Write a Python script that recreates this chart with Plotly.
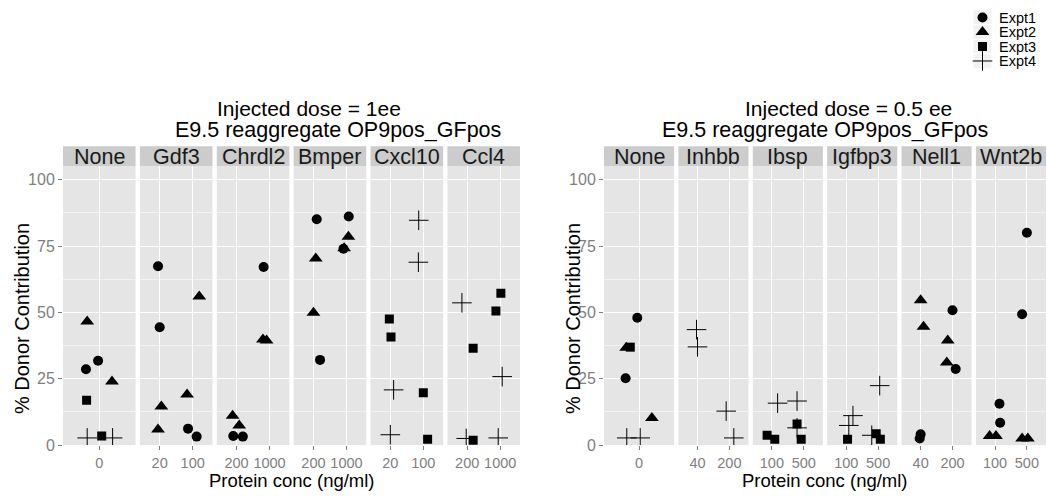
import plotly.graph_objects as go

W, H = 1047, 497
FONT = "Liberation Sans, Arial, sans-serif"

# ---------------- data ----------------
expt_names = ["Expt1", "Expt2", "Expt3", "Expt4"]
y_label = "% Donor Contribution"
x_label = "Protein conc (ng/ml)"
y_ticks = [0, 25, 50, 75, 100]

left_title = ["Injected dose = 1ee", "E9.5 reaggregate OP9pos_GFpos"]
left_facets = ["None", "Gdf3", "Chrdl2", "Bmper", "Cxcl10", "Ccl4"]
left_levels = [["0"], ["20", "100"], ["200", "1000"], ["200", "1000"], ["20", "100"], ["200", "1000"]]
left_facet = (["None"] * 8 + ["Gdf3"] * 8 + ["Chrdl2"] * 7 + ["Bmper"] * 8
              + ["Cxcl10"] * 8 + ["Ccl4"] * 8)
left_conc = ["0", "0", "0", "0", "0", "0", "0", "0",
             "20", "20", "100", "20", "20", "100", "100", "100",
             "200", "200", "200", "200", "1000", "1000", "1000",
             "200", "1000", "1000", "1000", "1000", "200", "200", "200",
             "100", "100", "20", "20", "20", "100", "20", "100",
             "1000", "200", "1000", "200", "1000", "200", "200", "1000"]
left_expt = ["Expt2", "Expt1", "Expt1", "Expt2", "Expt3", "Expt3", "Expt4", "Expt4",
             "Expt1", "Expt1", "Expt2", "Expt2", "Expt2", "Expt2", "Expt1", "Expt1",
             "Expt2", "Expt2", "Expt1", "Expt1", "Expt1", "Expt2", "Expt2",
             "Expt1", "Expt1", "Expt2", "Expt1", "Expt2", "Expt2", "Expt2", "Expt1",
             "Expt4", "Expt4", "Expt3", "Expt3", "Expt4", "Expt3", "Expt4", "Expt3",
             "Expt3", "Expt4", "Expt3", "Expt3", "Expt4", "Expt4", "Expt3", "Expt4"]
left_value = [46.6, 28.6, 31.8, 24.0, 16.9, 3.4, 2.7, 2.7,
              67.4, 44.4, 56.0, 14.5, 5.9, 19.1, 6.2, 3.2,
              11.1, 7.4, 3.4, 3.2, 67.1, 39.8, 39.4,
              85.1, 86.1, 78.5, 74.0, 74.2, 70.3, 49.9, 32.1,
              84.7, 68.9, 47.5, 40.7, 20.8, 19.7, 3.9, 2.2,
              57.2, 53.6, 50.5, 36.5, 25.8, 2.5, 1.8, 2.7]
left_jitter = [-0.20, -0.22, -0.02, 0.21, -0.21, 0.04, -0.20, 0.22,
               -0.05, 0.00, 0.20, 0.05, -0.05, -0.17, -0.14, 0.12,
               -0.12, 0.08, -0.10, 0.19, -0.18, -0.20, -0.09,
               0.10, 0.07, 0.06, -0.09, -0.07, 0.07, 0.00, 0.20,
               -0.14, -0.15, -0.03, 0.02, 0.10, 0.00, 0.00, 0.13,
               0.02, -0.16, -0.13, 0.18, 0.06, -0.03, 0.18, -0.06]

right_title = ["Injected dose = 0.5 ee", "E9.5 reaggregate OP9pos_GFpos"]
right_facets = ["None", "Inhbb", "Ibsp", "Igfbp3", "Nell1", "Wnt2b"]
right_levels = [["0"], ["40", "200"], ["100", "500"], ["100", "500"], ["40", "200"], ["100", "500"]]
right_facet = (["None"] * 7 + ["Inhbb"] * 4 + ["Ibsp"] * 7 + ["Igfbp3"] * 7
               + ["Nell1"] * 8 + ["Wnt2b"] * 8)
right_conc = ["0", "0", "0", "0", "0", "0", "0",
              "40", "40", "200", "200",
              "100", "100", "100", "500", "500", "500", "500",
              "500", "100", "100", "100", "500", "500", "500",
              "40", "200", "40", "200", "200", "200", "40", "40",
              "500", "500", "100", "100", "100", "100", "500", "500"]
right_expt = ["Expt1", "Expt2", "Expt3", "Expt1", "Expt2", "Expt4", "Expt4",
              "Expt4", "Expt4", "Expt4", "Expt4",
              "Expt3", "Expt3", "Expt4", "Expt4", "Expt4", "Expt3", "Expt3",
              "Expt4", "Expt4", "Expt4", "Expt3", "Expt3", "Expt4", "Expt3",
              "Expt2", "Expt1", "Expt2", "Expt2", "Expt2", "Expt1", "Expt1", "Expt1",
              "Expt1", "Expt1", "Expt1", "Expt1", "Expt2", "Expt2", "Expt2", "Expt2"]
right_value = [48.0, 36.7, 36.9, 25.2, 10.2, 2.7, 2.7,
               43.5, 37.0, 12.8, 2.7,
               3.7, 2.2, 15.8, 16.6, 6.5, 7.9, 2.2,
               22.4, 11.1, 7.4, 2.2, 4.3, 3.7, 2.2,
               54.6, 50.8, 44.6, 39.4, 31.1, 28.7, 4.1, 2.5,
               80.0, 49.3, 15.6, 8.4, 3.4, 3.4, 2.5, 2.5]
right_jitter = [-0.03, -0.22, -0.15, -0.23, 0.22, -0.21, 0.02,
                -0.03, 0.00, -0.10, 0.14,
                -0.15, 0.09, 0.18, -0.21, -0.21, -0.21, -0.08,
                0.05, 0.21, 0.08, 0.04, -0.06, -0.20, 0.07,
                0.00, 0.00, 0.09, -0.15, -0.18, 0.10, 0.00, -0.03,
                0.00, -0.15, 0.14, 0.16, -0.17, 0.03, -0.15, 0.03]

# ---------------- styling / layout ----------------
symbols = {"Expt1": ("circle", 10), "Expt2": ("triangle-up", 12),
           "Expt3": ("square", 9), "Expt4": ("cross-thin", 14)}

panels = [
    dict(title=left_title, facets=left_facets, levels=left_levels, facet=left_facet,
         conc=left_conc, expt=left_expt, value=left_value, jitter=left_jitter,
         x0=63, x1=520, t1x=309, t2x=338, ytitle_x=22),
    dict(title=right_title, facets=right_facets, levels=right_levels, facet=right_facet,
         conc=right_conc, expt=right_expt, value=right_value, jitter=right_jitter,
         x0=604, x1=1046, t1x=848, t2x=825, ytitle_x=573),
]

GAP = 4.3
PTOP, PBOT = 169, 453.3
STRIP_TOP = 149
YRANGE = [0, (PBOT - PTOP) / ((PBOT - 183.0) / 100.0)]


def fx(p):
    return p / W


def fy(p):
    return 1 - p / H


def marker_for(e):
    sym, size = symbols[e]
    return dict(symbol=sym, size=size, color="black",
                line=dict(width=1 if sym == "cross-thin" else 0, color="black"))


fig = go.Figure()
layout = dict(shapes=[], annotations=[])
n = 0
for P in panels:
    nf = len(P["facets"])
    fw = (P["x1"] - P["x0"] - GAP * (nf - 1)) / nf
    for k, fname in enumerate(P["facets"]):
        n += 1
        a0 = P["x0"] + k * (fw + GAP)
        a1 = a0 + fw
        levels = P["levels"][k]
        nl = len(levels)
        xs = "" if n == 1 else str(n)
        layout["xaxis" + xs] = dict(
            domain=[fx(a0), fx(a1)], anchor="y" + xs, range=[0.4, nl + 0.6],
            tickmode="array", tickvals=list(range(1, nl + 1)), ticktext=levels,
            tickangle=0, ticklabelstandoff=1,
            showgrid=True, gridcolor="white", gridwidth=1.3, zeroline=False,
            showline=False, ticks="outside", ticklen=4, tickcolor="#7F7F7F",
            tickfont=dict(size=14.5, color="#7F7F7F", family=FONT), fixedrange=True)
        layout["yaxis" + xs] = dict(
            domain=[fy(PBOT), fy(PTOP)], anchor="x" + xs, range=YRANGE,
            tickmode="array", tickvals=y_ticks, showgrid=True, gridcolor="white",
            gridwidth=1.3, zeroline=False, showline=False,
            minor=dict(tickmode="array", tickvals=[12.5, 37.5, 62.5, 87.5],
                       showgrid=True, gridcolor="#F2F2F2", gridwidth=0.8),
            ticks="outside" if k == 0 else "", ticklen=4, tickcolor="#7F7F7F",
            showticklabels=(k == 0),
            tickfont=dict(size=16, color="#7F7F7F", family=FONT), fixedrange=True)
        # strip
        layout["shapes"].append(dict(type="rect", xref="paper", yref="paper",
                                     x0=fx(a0), x1=fx(a1), y0=fy(PTOP), y1=fy(STRIP_TOP),
                                     fillcolor="#CCCCCC", line=dict(width=0), layer="below"))
        layout["annotations"].append(dict(text=fname, xref="paper", yref="paper",
                                          x=fx((a0 + a1) / 2), y=fy((PTOP + STRIP_TOP) / 2 + 0.5),
                                          xanchor="center", yanchor="middle", showarrow=False,
                                          font=dict(size=21.5, color="#1A1A1A", family=FONT)))
        # points
        for e in expt_names:
            idx = [i for i in range(len(P["value"]))
                   if P["facet"][i] == fname and P["expt"][i] == e]
            if not idx:
                continue
            xv = [levels.index(P["conc"][i]) + 1 + P["jitter"][i] for i in idx]
            yv = [P["value"][i] for i in idx]
            fig.add_trace(go.Scatter(
                x=xv, y=yv, mode="markers", marker=marker_for(e), name=e,
                showlegend=False, xaxis="x" + xs, yaxis="y" + xs, hoverinfo="skip"))
    # titles
    layout["annotations"].append(dict(text=P["title"][0], xref="paper", yref="paper",
                                      x=fx(P["t1x"]), y=fy(110), xanchor="center",
                                      yanchor="middle", showarrow=False,
                                      font=dict(size=21, color="black", family=FONT)))
    layout["annotations"].append(dict(text=P["title"][1], xref="paper", yref="paper",
                                      x=fx(P["t2x"]), y=fy(132), xanchor="center",
                                      yanchor="middle", showarrow=False,
                                      font=dict(size=21.5, color="black", family=FONT)))
    layout["annotations"].append(dict(text=y_label, xref="paper", yref="paper",
                                      x=fx(P["ytitle_x"]), y=fy(325), xanchor="center",
                                      yanchor="middle", textangle=-90, showarrow=False,
                                      font=dict(size=20, color="black", family=FONT)))
    layout["annotations"].append(dict(text=x_label, xref="paper", yref="paper",
                                      x=fx((P["x0"] + P["x1"]) / 2), y=fy(489),
                                      xanchor="center", yanchor="middle", showarrow=False,
                                      font=dict(size=18.5, color="black", family=FONT)))

# ---------------- legend (drawn on its own small categorical axis) ----------------
LX0, LX1, LY0, LY1 = 973, 992, 10.5, 69.5
layout["xaxis13"] = dict(domain=[fx(LX0), fx(LX1)], anchor="y13", range=[-1, 1],
                         visible=False, fixedrange=True)
layout["yaxis13"] = dict(domain=[fy(LY1), fy(LY0)], anchor="x13", type="category",
                         categoryorder="array", categoryarray=expt_names,
                         range=[len(expt_names) - 0.5, -0.5], visible=False, fixedrange=True)
for j, e in enumerate(expt_names):
    layout["shapes"].append(dict(type="rect", xref="x13", yref="y13", x0=-1, x1=1,
                                 y0=j - 0.5, y1=j + 0.5, fillcolor="#F2F2F2",
                                 line=dict(color="white", width=1), layer="below"))
    fig.add_trace(go.Scatter(x=[0], y=[e], mode="markers", marker=marker_for(e),
                             showlegend=False, xaxis="x13", yaxis="y13", hoverinfo="skip",
                             cliponaxis=False))
    layout["annotations"].append(dict(text=e, xref="paper", yref="y13", x=fx(997), y=e,
                                      xanchor="left", yanchor="middle", showarrow=False,
                                      font=dict(size=14.5, color="black", family=FONT)))

fig.update_layout(
    width=W, height=H, margin=dict(l=0, r=0, t=0, b=0),
    paper_bgcolor="white", plot_bgcolor="#E5E5E5",
    font=dict(family=FONT), showlegend=False,
    **layout)

fig.write_html("out.html")
